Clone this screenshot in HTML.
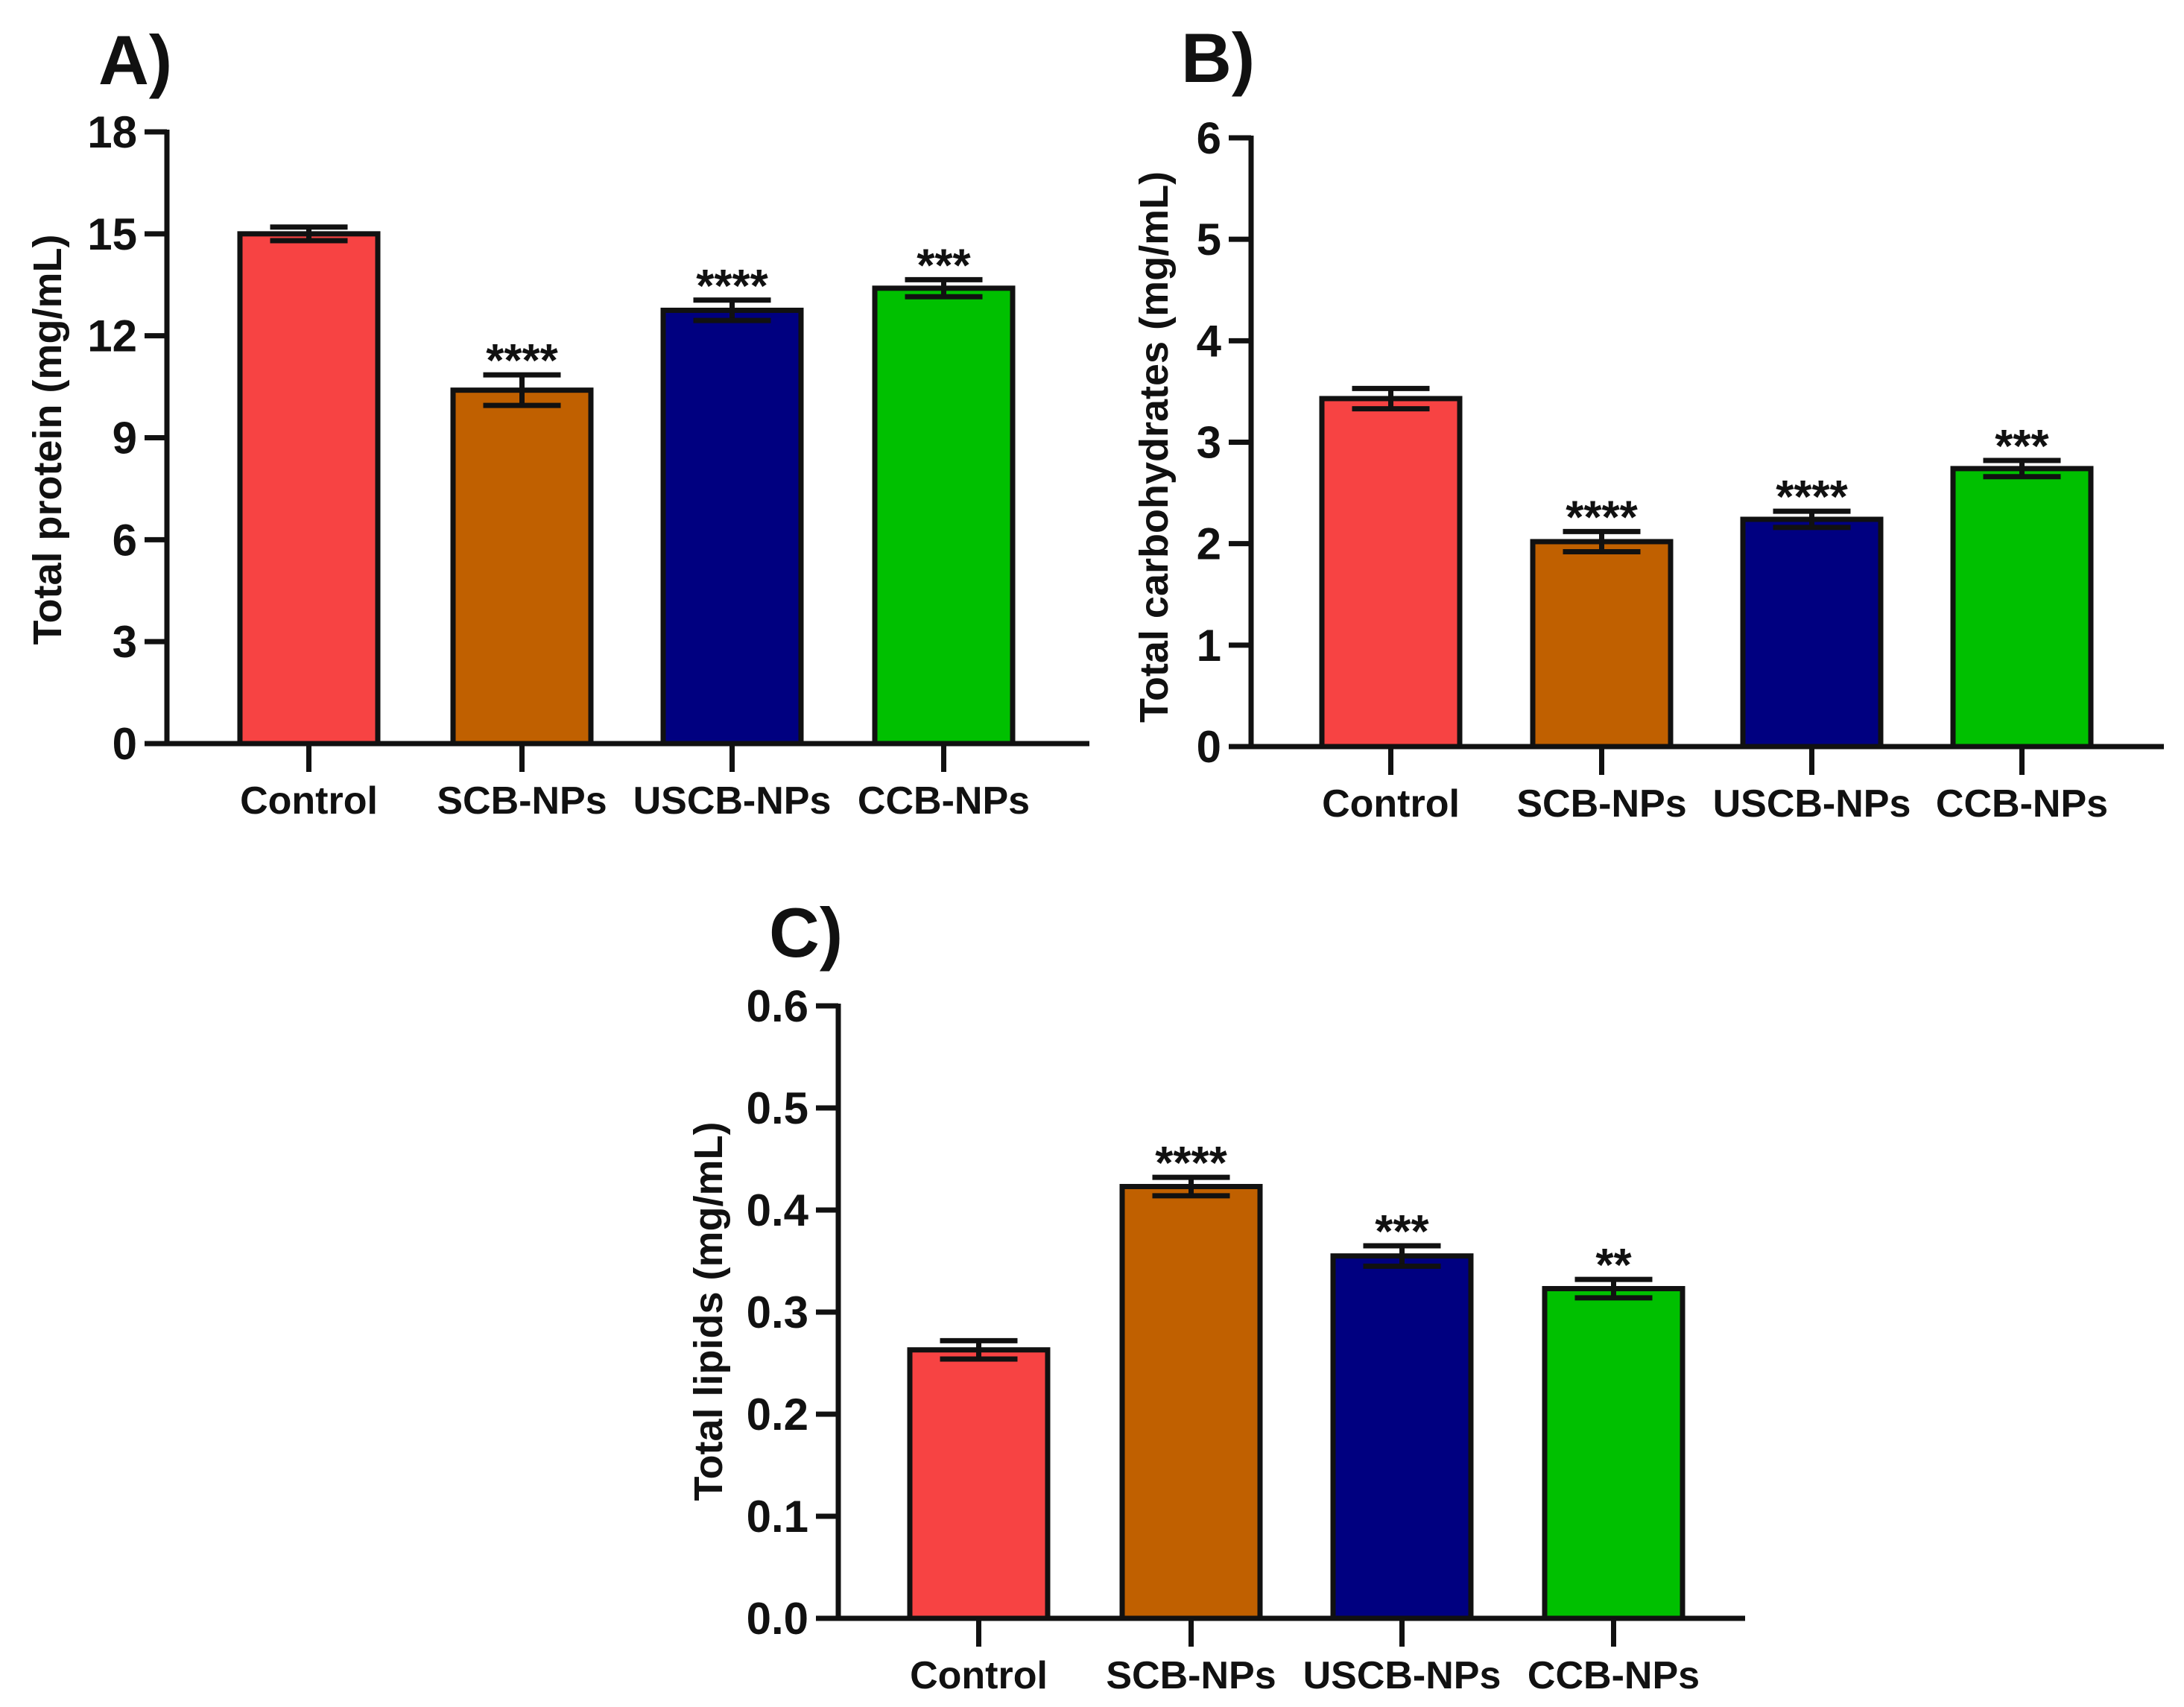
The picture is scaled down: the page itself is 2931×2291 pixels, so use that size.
<!DOCTYPE html>
<html><head><meta charset="utf-8"><style>
html,body{margin:0;padding:0;background:#fff;}
svg{display:block;}
text{font-family:"Liberation Sans",Arial,sans-serif;font-weight:bold;fill:#111;}
</style></head><body>
<svg id="fig" width="2931" height="2291" viewBox="0 0 2931 2291" xmlns="http://www.w3.org/2000/svg"></svg>
<script>
const categories = ["Control","SCB-NPs","USCB-NPs","CCB-NPs"];
const colors = ["#f74343","#c06000","#000080","#00c000"];
const proteinValues = [15.0, 10.4, 12.75, 13.4];
const proteinErrors = [0.2, 0.45, 0.3, 0.25];
const proteinStars = ["", "****", "****", "***"];
const proteinTicks = [0,3,6,9,12,15,18];
const carbValues = [3.43, 2.02, 2.24, 2.74];
const carbErrors = [0.1, 0.1, 0.08, 0.08];
const carbStars = ["", "****", "****", "***"];
const carbTicks = [0,1,2,3,4,5,6];
const lipidValues = [0.263, 0.423, 0.355, 0.323];
const lipidErrors = [0.009, 0.009, 0.01, 0.009];
const lipidStars = ["", "****", "***", "**"];
const lipidTicks = [0.0,0.1,0.2,0.3,0.4,0.5,0.6];

const NS="http://www.w3.org/2000/svg";
const svg=document.getElementById('fig');
function mk(tag,attrs,parent){const e=document.createElementNS(NS,tag);for(const k in attrs)e.setAttribute(k,attrs[k]);(parent||svg).appendChild(e);return e;}

function panel(p){
  const g=mk('g',{});
  
  
  const ymax=p.ticks[p.ticks.length-1];
  const yScale=v=>p.y0-(v/ymax)*(p.y0-p.yTop);
  const t=mk('text',{x:p.titleX,y:p.titleY,'font-size':94},g);t.textContent=p.title;
  
  
  categories.forEach((c,i)=>{
    const x0=p.barX[i], w=p.barW;
    const top=yScale(p.values[i]);
    const r=mk('rect',{x:x0,y:top,width:w,height:p.y0-top,fill:colors[i],stroke:'#111','stroke-width':7},g);
    
    
    const cx=x0+w/2;
    const eT=yScale(p.values[i]+p.errors[i]), eB=yScale(p.values[i]-p.errors[i]);
    const eg=mk('g',{stroke:'#111','stroke-width':7},g);
    
    
    mk('line',{x1:cx,x2:cx,y1:eT,y2:eB},eg);
    mk('line',{x1:cx-52,x2:cx+52,y1:eT,y2:eT},eg);
    mk('line',{x1:cx-52,x2:cx+52,y1:eB,y2:eB},eg);
    if(p.stars[i]){
      const s=mk('text',{x:cx,y:eT+2,'font-size':62,'text-anchor':'middle'},g);s.textContent=p.stars[i];
      
      
    }
    mk('line',{x1:cx,x2:cx,y1:p.y0,y2:p.y0+38,stroke:'#111','stroke-width':7},g);
    const l=mk('text',{x:cx,y:p.y0+94,'font-size':52,'text-anchor':'middle'},g);l.textContent=c;
    
    
  });
  const ya=mk('line',{x1:p.axX,x2:p.axX,y1:p.yTop-3,y2:p.y0+3,stroke:'#111','stroke-width':7},g);
  
  
  const xa=mk('line',{x1:p.axX-30,x2:p.axEnd,y1:p.y0,y2:p.y0,stroke:'#111','stroke-width':7},g);
  
  
  p.ticks.forEach(v=>{
    const y=yScale(v);
    mk('line',{x1:p.axX-30,x2:p.axX,y1:y,y2:y,stroke:'#111','stroke-width':7},g);
    const tl=mk('text',{x:p.axX-40,y:y+21,'font-size':60,'text-anchor':'end'},g);
    tl.textContent=p.fmt(v);
    
    
  });
  const yt=mk('text',{x:0,y:0,'font-size':54,'text-anchor':'middle',transform:`translate(${p.ytX},${p.ytY}) rotate(-90)`},g);
  yt.textContent=p.ytitle;
  
  
}

panel({name:'panel-a-protein',title:'A)',titleX:132,titleY:113,values:proteinValues,errors:proteinErrors,stars:proteinStars,ticks:proteinTicks,
  fmt:v=>String(v),axX:224,axEnd:1462,y0:998,yTop:177,barX:[322,608,890,1174],barW:185,ytitle:'Total protein (mg/mL)',ytX:82,ytY:590});
panel({name:'panel-b-carbohydrates',title:'B)',titleX:1585,titleY:110,values:carbValues,errors:carbErrors,stars:carbStars,ticks:carbTicks,
  fmt:v=>String(v),axX:1679,axEnd:2904,y0:1002,yTop:185,barX:[1774,2057,2339,2621],barW:185,ytitle:'Total carbohydrates (mg/mL)',ytX:1567,ytY:600});
panel({name:'panel-c-lipids',title:'C)',titleX:1032,titleY:1284,values:lipidValues,errors:lipidErrors,stars:lipidStars,ticks:lipidTicks,
  fmt:v=>v.toFixed(1),axX:1125,axEnd:2342,y0:2172,yTop:1350,barX:[1221,1506,1789,2073],barW:185,ytitle:'Total lipids (mg/mL)',ytX:969,ytY:1760});
</script>
</body></html>
